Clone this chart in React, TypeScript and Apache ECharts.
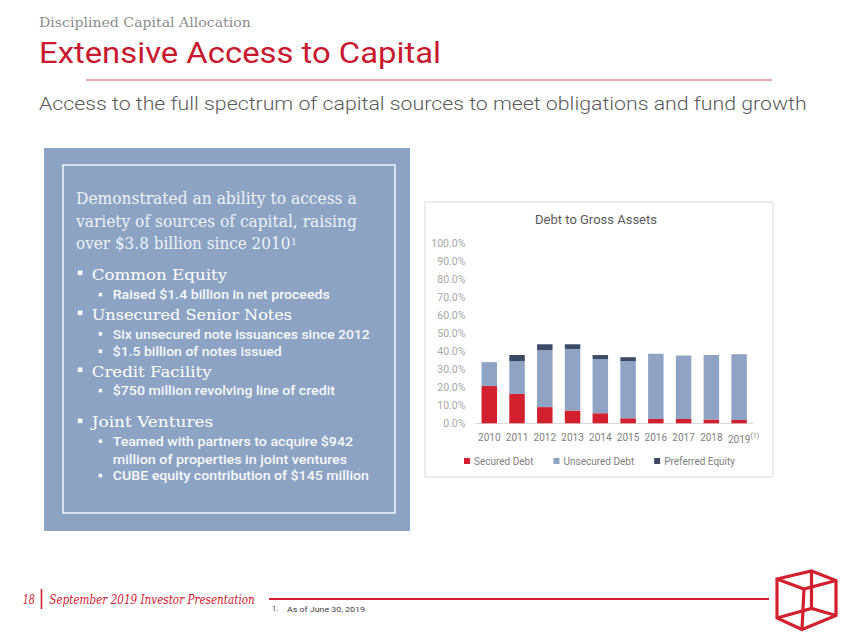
import React, { useEffect, useRef } from 'react';
import * as echarts from 'echarts';

// ---- data ----
const years = ['2010', '2011', '2012', '2013', '2014', '2015', '2016', '2017', '2018', '2019'];
const securedDebt = [20.7, 16.3, 9.0, 7.1, 5.6, 2.8, 2.4, 2.4, 2.1, 1.9];
const unsecuredDebt = [13.3, 18.2, 31.6, 34.2, 30.1, 31.7, 36.2, 35.2, 35.8, 36.4];
const preferredEquity = [0, 3.4, 3.3, 2.6, 2.2, 2.2, 0, 0, 0, 0];
const seriesNames = ['Secured Debt', 'Unsecured Debt', 'Preferred Equity'];
const yMin = 0;
const yMax = 100;
const yStep = 10;

// ---- texts ----
const introLines = [
  'Demonstrated an ability to access a',
  'variety of sources of capital, raising',
  'over $3.8 billion since 2010',
];
const bulletItems: { level: number; text: string; baseline: number; width: number }[] = [
  { level: 1, text: 'Common Equity', baseline: 279.5, width: 135.6 },
  { level: 2, text: 'Raised $1.4 billion in net proceeds', baseline: 299, width: 217.3 },
  { level: 1, text: 'Unsecured Senior Notes', baseline: 319.5, width: 200.6 },
  { level: 2, text: 'Six unsecured note issuances since 2012', baseline: 338.3, width: 257.3 },
  { level: 2, text: '$1.5 billion of notes issued', baseline: 355.7, width: 169 },
  { level: 1, text: 'Credit Facility', baseline: 376.5, width: 120 },
  { level: 2, text: '$750 million revolving line of credit', baseline: 395, width: 222.3 },
  { level: 1, text: 'Joint Ventures', baseline: 427.5, width: 121.6 },
  { level: 2, text: 'Teamed with partners to acquire $942', baseline: 445.7, width: 240.6 },
  { level: 3, text: 'million of properties in joint ventures', baseline: 463.3, width: 234.6 },
  { level: 2, text: 'CUBE equity contribution of $145 million', baseline: 480, width: 256.6 },
];

const RED = '#D2202F';
const BLUE = '#8FA4C4';
const NAVY = '#3C4A66';
const PANEL = '#8DA3C3';
const SERIF = 'DejaVu Serif';
const SANS = 'Roboto';

let measureCtx: CanvasRenderingContext2D | null = null;
function measure(text: string, font: string): number {
  if (!measureCtx) measureCtx = document.createElement('canvas').getContext('2d');
  if (!measureCtx) return text.length * 7;
  measureCtx.font = font;
  return measureCtx.measureText(text).width;
}

function label(
  text: string,
  x: number,
  baseline: number,
  size: number,
  family: string,
  fill: string,
  opt: { weight?: string | number; style?: string; width?: number } = {}
): any {
  const weight = opt.weight ?? 'normal';
  const style = opt.style ?? 'normal';
  const font = `${style} ${weight} ${size}px ${family}`;
  let scaleX = 1;
  if (opt.width) scaleX = opt.width / measure(text, font);
  return {
    type: 'text',
    x,
    y: baseline - 0.34 * size,
    scaleX,
    silent: true,
    style: {
      text,
      fill,
      fontSize: size,
      fontFamily: family,
      fontWeight: weight,
      fontStyle: style,
      align: 'left',
      verticalAlign: 'middle',
    },
  };
}

function buildGraphics(): any[] {
  const els: any[] = [];
  // header
  els.push(label('Disciplined Capital Allocation', 39, 26.5, 13, SERIF, '#8C8C8C', { width: 212 }));
  els.push(label('Extensive Access to Capital', 39, 63, 29, SANS, '#C8192E', { weight: 400, width: 402 }));
  els.push({ type: 'line', silent: true, shape: { x1: 86, y1: 80, x2: 772, y2: 80 }, style: { stroke: '#E4505C', lineWidth: 1 } });
  els.push(
    label('Access to the full spectrum of capital sources to meet obligations and fund growth', 39, 110, 17.5, SANS, '#5A5A5A', {
      weight: 300,
      width: 768,
    })
  );

  // left panel
  els.push({ type: 'rect', silent: true, shape: { x: 44, y: 148, width: 366, height: 383 }, style: { fill: PANEL } });
  els.push({
    type: 'rect',
    silent: true,
    shape: { x: 63, y: 165, width: 332, height: 348 },
    style: { fill: 'none', stroke: '#F4F6FA', lineWidth: 1.5 },
  });
  const introBaselines = [204, 226.5, 249];
  const introWidths = [281, 281, 214.7];
  introLines.forEach((t, i) => {
    els.push(label(t, 76, introBaselines[i], 16, SERIF, '#EEF1F6', { width: introWidths[i] }));
  });
  els.push(label('1', 291, 245.5, 9, SERIF, '#EEF1F6'));

  bulletItems.forEach((b) => {
    if (b.level === 1) {
      els.push({ type: 'rect', silent: true, shape: { x: 77.8, y: b.baseline - 9, width: 4.6, height: 4.6 }, style: { fill: '#FFFFFF' } });
      els.push(label(b.text, 91.7, b.baseline, 15.5, SERIF, '#FFFFFF', { width: b.width }));
    } else {
      if (b.level === 2) {
        els.push({ type: 'rect', silent: true, shape: { x: 98.7, y: b.baseline - 6.2, width: 3.5, height: 3.5 }, style: { fill: '#FFFFFF' } });
      }
      els.push(label(b.text, 112.7, b.baseline, 13, SANS, '#F7F8FB', { weight: 500, width: b.width }));
    }
  });

  // chart frame
  els.push({
    type: 'rect',
    silent: true,
    z: -1,
    shape: { x: 425, y: 202, width: 348, height: 275 },
    style: { fill: 'none', stroke: '#D9D9D9', lineWidth: 1 },
  });

  // footer
  els.push(label('18', 22.7, 604, 13, SERIF, RED, { style: 'italic', width: 12.3 }));
  els.push({ type: 'line', silent: true, shape: { x1: 41.5, y1: 589, x2: 41.5, y2: 609 }, style: { stroke: RED, lineWidth: 1.6 } });
  els.push(label('September 2019 Investor Presentation', 49.3, 604, 13, SERIF, RED, { style: 'italic', width: 205.7 }));
  els.push({ type: 'line', silent: true, shape: { x1: 269, y1: 599, x2: 769, y2: 599 }, style: { stroke: RED, lineWidth: 2 } });
  els.push(label('1.', 272, 611.5, 7.5, SANS, '#404040'));
  els.push(label('As of June 30, 2019', 287, 611.5, 7.5, SANS, '#404040', { width: 78 }));

  // cube logo (wireframe)
  const A = [777, 579];
  const B = [804, 589];
  const C = [836, 580.5];
  const D = [811.5, 571];
  const A2 = [777, 618];
  const B2 = [802, 629.5];
  const C2 = [836, 615.5];
  const D2 = [811.5, 608.5];
  const cubeStyle = { fill: 'none', stroke: RED, lineWidth: 3.2, lineJoin: 'miter' };
  els.push({ type: 'polygon', silent: true, shape: { points: [A, D, C, C2, B2, A2] }, style: cubeStyle });
  els.push({ type: 'polyline', silent: true, shape: { points: [A, B, C] }, style: cubeStyle });
  els.push({ type: 'line', silent: true, shape: { x1: B[0], y1: B[1], x2: B2[0], y2: B2[1] }, style: cubeStyle });
  els.push({ type: 'line', silent: true, shape: { x1: D[0], y1: D[1], x2: D2[0], y2: D2[1] }, style: cubeStyle });
  els.push({ type: 'polyline', silent: true, shape: { points: [A2, D2, C2] }, style: cubeStyle });

  return els;
}

export default function App() {
  const ref = useRef<HTMLDivElement>(null);
  useEffect(() => {
    if (!ref.current) return;
    const chart = echarts.init(ref.current, undefined, { renderer: 'svg' });
    const option: any = {
      animation: false,
      backgroundColor: '#FFFFFF',
      textStyle: { fontFamily: SANS },
      title: {
        text: 'Debt to Gross Assets',
        left: 596,
        top: 213,
        padding: 0,
        textAlign: 'center',
        textStyle: { fontSize: 13, fontWeight: 400, color: '#595959', fontFamily: SANS },
      },
      legend: {
        data: seriesNames,
        left: 464,
        top: 456,
        padding: 0,
        icon: 'rect',
        itemWidth: 6,
        itemHeight: 6,
        itemGap: 20,
        textStyle: { fontSize: 10, color: '#7F7F7F', fontFamily: SANS, padding: [0, 0, 0, -1] },
      },
      grid: { left: 475.4, right: 97, top: 243.3, height: 180, containLabel: false },
      xAxis: {
        type: 'category',
        data: years,
        axisTick: { show: false },
        axisLine: { show: true, lineStyle: { color: '#D9D9D9', width: 1 } },
        axisLabel: {
          margin: 9,
          fontSize: 10,
          color: '#7F7F7F',
          interval: 0,
          formatter: (v: string) => (v === '2019' ? '{pl|}' + v + '{sup|(1)}' : v),
          rich: {
            pl: { width: 9 },
            sup: { fontSize: 7, color: '#7F7F7F', verticalAlign: 'top', padding: [0, 0, 7, 0] },
          },
        },
      },
      yAxis: {
        type: 'value',
        min: yMin,
        max: yMax,
        interval: yStep,
        axisLine: { show: false },
        axisTick: { show: false },
        splitLine: { show: false },
        axisLabel: {
          margin: 10,
          fontSize: 10.5,
          color: '#A6A6A6',
          formatter: (v: number) => v.toFixed(1) + '%',
        },
      },
      series: [
        { name: seriesNames[0], type: 'bar', stack: 'total', data: securedDebt, barWidth: 15.5, itemStyle: { color: RED } },
        { name: seriesNames[1], type: 'bar', stack: 'total', data: unsecuredDebt, barWidth: 15.5, itemStyle: { color: BLUE } },
        { name: seriesNames[2], type: 'bar', stack: 'total', data: preferredEquity, barWidth: 15.5, itemStyle: { color: NAVY } },
      ],
      graphic: { elements: buildGraphics() },
    };
    chart.setOption(option);
    return () => {
      chart.dispose();
    };
  }, []);
  return <div ref={ref} style={{ position: 'fixed', left: 0, top: 0, width: 850, height: 637 }} />;
}
